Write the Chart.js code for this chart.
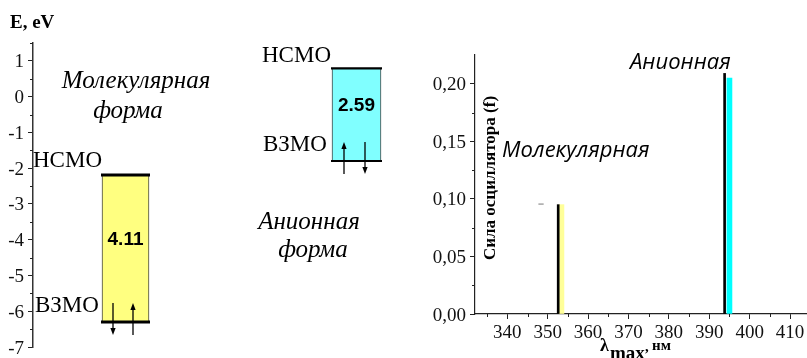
<!DOCTYPE html>
<html>
<head>
<meta charset="utf-8">
<script src="https://cdn.jsdelivr.net/npm/chart.js@4"></script>
<style>
  html, body { margin: 0; padding: 0; background: #fff; }
  #wrap { position: relative; width: 807px; height: 358px; overflow: hidden; }
  #energy { position: absolute; left: 0; top: 0; }
  #spectrum { position: absolute; left: 420px; top: 0; }
</style>
</head>
<body>
<div id="wrap">
  <canvas id="energy" width="420" height="358"></canvas>
  <canvas id="spectrum" width="387" height="358"></canvas>
</div>
<script>
// ---- Frontier orbital energies, eV ----
const forms = ['Молекулярная', 'Анионная'];
const homo = [-6.30, -1.80];
const lumo = [-2.19, 0.79];
const energyTicks = [-7, -6, -5, -4, -3, -2, -1, 0, 1];
const energyMinorTicks = [-6.5, -5.5, -4.5, -3.5, -2.5, -1.5, -0.5, 0.5, 1.5];

// ---- Oscillator strengths of the main transitions ----
const lineWavelengths = [352.6, 393.8];
const lineStrengths = [0.095, 0.209];
const barWavelengths = [353.4, 395.0];
const barStrengths = [0.095, 0.205];
const stubWavelengths = [347.7, 349.0];
const stubStrengths = [0.0955, 0.0955];
const wavelengthTicks = [340, 350, 360, 370, 380, 390, 400, 410];
const wavelengthMinorTicks = [335, 345, 355, 365, 375, 385, 395, 405];
const strengthTicks = [0, 0.05, 0.10, 0.15, 0.20];
const strengthMinorTicks = [0.025, 0.075, 0.125, 0.175];

// ---- drawing settings ----
const SERIF = "'Liberation Serif', 'Times New Roman', serif";
const SANS = "'Liberation Sans', Arial, sans-serif";
const TICK_FONT = "19px " + SERIF;
const boxCenters = [125.5, 356.5];
const boxWidths = [47, 49];
const boxFills = ['#ffff80', '#80ffff'];
const levelWidths = [3, 2.2];
const barFills = ['#ffff99', '#00ffff'];

Chart.defaults.animation = false;
Chart.defaults.events = [];
Chart.defaults.plugins.legend.display = false;
Chart.defaults.plugins.tooltip.enabled = false;

function arrow(ctx, x, yFrom, yTo) {
  const dir = yTo > yFrom ? 1 : -1;
  ctx.beginPath();
  ctx.moveTo(x, yFrom);
  ctx.lineTo(x, yTo - dir * 5);
  ctx.stroke();
  ctx.beginPath();
  ctx.moveTo(x, yTo);
  ctx.lineTo(x - 2.6, yTo - dir * 7);
  ctx.lineTo(x + 2.6, yTo - dir * 7);
  ctx.closePath();
  ctx.fill();
}

function minorTicks(ctx, scale, values, len, vertical) {
  ctx.save();
  ctx.strokeStyle = '#222';
  ctx.lineWidth = 1;
  values.forEach(v => {
    const p = Math.round(scale.getPixelForValue(v)) + 0.5;
    ctx.beginPath();
    if (vertical) { ctx.moveTo(scale.right - len, p); ctx.lineTo(scale.right, p); }
    else { ctx.moveTo(p, scale.top); ctx.lineTo(p, scale.top + len); }
    ctx.stroke();
  });
  ctx.restore();
}

// tick labels in the serif face, placed from the scale's own ticks
function tickLabels(ctx, scale, fmt, vertical) {
  ctx.save();
  ctx.font = TICK_FONT;
  ctx.fillStyle = '#111';
  ctx.textBaseline = 'alphabetic';
  scale.ticks.forEach(t => {
    const p = scale.getPixelForValue(t.value);
    if (vertical) { ctx.textAlign = 'right'; ctx.fillText(fmt(t.value), scale.right - 9, p + 6.5); }
    else { ctx.textAlign = 'center'; ctx.fillText(fmt(t.value), p, scale.top + 24); }
  });
  ctx.restore();
}

// ---- left panel: HOMO/LUMO levels ----
const energyDecor = {
  id: 'energyDecor',
  afterDatasetsDraw(chart) {
    const { ctx, scales: { x, y } } = chart;
    ctx.save();
    minorTicks(ctx, y, energyMinorTicks, 3, true);
    tickLabels(ctx, y, v => String(v), true);

    forms.forEach((f, i) => {
      const cx = x.getPixelForValue(boxCenters[i]);
      const half = boxWidths[i] / 2 + 1;
      const pHomo = y.getPixelForValue(homo[i]);
      const pLumo = y.getPixelForValue(lumo[i]);

      ctx.strokeStyle = '#000';
      ctx.lineWidth = levelWidths[i];
      [pHomo, pLumo].forEach(p => {
        ctx.beginPath(); ctx.moveTo(cx - half, p); ctx.lineTo(cx + half, p); ctx.stroke();
      });

      // band gap
      ctx.fillStyle = '#000';
      ctx.font = 'bold 19px ' + SANS;
      ctx.textAlign = 'center';
      ctx.textBaseline = 'middle';
      ctx.fillText((lumo[i] - homo[i]).toFixed(2), cx, (pHomo + pLumo) / 2 - 9);

      // paired electrons on the HOMO
      ctx.lineWidth = 1.3;
      const top = pHomo - 19, bottom = pHomo + 13;
      if (i === 0) { arrow(ctx, cx - 12.5, top, bottom); arrow(ctx, cx + 7.5, bottom, top); }
      else { arrow(ctx, cx - 12.5, bottom, top); arrow(ctx, cx + 8.5, top, bottom); }
    });

    ctx.fillStyle = '#000';
    ctx.textBaseline = 'alphabetic';
    ctx.textAlign = 'left';
    ctx.font = 'bold 19px ' + SERIF;
    ctx.fillText('E, eV', 10, 28);

    ctx.font = '23px ' + SERIF;
    ctx.fillText('НСМО', 33, 167);
    ctx.fillText('ВЗМО', 35, 312);
    ctx.fillText('НСМО', 262, 62);
    ctx.fillText('ВЗМО', 263, 151);

    ctx.font = 'italic 25px ' + SERIF;
    ctx.textAlign = 'center';
    ctx.fillText('Молекулярная', 136, 88);
    ctx.fillText('форма', 128, 118);
    ctx.fillText('Анионная', 309, 229);
    ctx.fillText('форма', 313, 257);
    ctx.restore();
  }
};

new Chart(document.getElementById('energy'), {
  type: 'bar',
  data: {
    datasets: forms.map((f, i) => ({
      label: f,
      data: [{ x: boxCenters[i], y: [homo[i], lumo[i]] }],
      backgroundColor: boxFills[i],
      borderColor: '#444',
      borderWidth: { left: 1, right: 1, top: 0, bottom: 0 },
      borderSkipped: false,
      barThickness: boxWidths[i],
      grouped: false
    }))
  },
  options: {
    responsive: false,
    devicePixelRatio: 1,
    layout: { padding: { top: 43, bottom: 11, left: 0, right: 0 } },
    scales: {
      x: { type: 'linear', display: false, min: 33, max: 420, offset: false, grid: { offset: false } },
      y: {
        type: 'linear', min: -7, max: 1.5,
        afterBuildTicks(s) { s.ticks = energyTicks.map(v => ({ value: v })); },
        afterFit(s) { s.width = 33; },
        border: { display: true, color: '#333', width: 1.5 },
        grid: { drawOnChartArea: false, drawTicks: true, tickLength: 5, tickColor: '#222' },
        ticks: { display: false }
      }
    }
  },
  plugins: [energyDecor]
});

// ---- right panel: oscillator strengths ----
const spectrumDecor = {
  id: 'spectrumDecor',
  afterDatasetsDraw(chart) {
    const { ctx, scales: { x, y } } = chart;
    minorTicks(ctx, y, strengthMinorTicks, 3, true);
    minorTicks(ctx, x, wavelengthMinorTicks, 3, false);
    tickLabels(ctx, y, v => v.toFixed(2).replace('.', ','), true);
    tickLabels(ctx, x, v => String(v), false);
    ctx.save();
    ctx.fillStyle = '#000';

    // axis titles
    ctx.save();
    ctx.translate(75, 178);
    ctx.rotate(-Math.PI / 2);
    ctx.font = 'bold 17px ' + SERIF;
    ctx.textAlign = 'center';
    ctx.textBaseline = 'alphabetic';
    ctx.fillText('Сила осциллятора (f)', 0, 0);
    ctx.restore();

    ctx.textAlign = 'left';
    ctx.textBaseline = 'alphabetic';
    ctx.font = 'bold 18px ' + SERIF;
    ctx.fillText('λ', 180, 351);
    ctx.font = 'bold 19px ' + SERIF;
    ctx.fillText('max', 190, 359);
    ctx.font = 'bold 15px ' + SERIF;
    ctx.fillText(',', 225, 351);
    ctx.fillText('нм', 232, 350);

    // transition labels
    ctx.font = "italic 22px 'Open Sans', sans-serif";
    ctx.fillText('Анионная', 210, 69);
    ctx.fillText('Молекулярная', 82, 157);
    ctx.restore();
  }
};

new Chart(document.getElementById('spectrum'), {
  type: 'bar',
  data: {
    datasets: [
      {
        label: 'λ',
        data: lineWavelengths.map((w, i) => ({ x: w, y: lineStrengths[i] })),
        backgroundColor: '#000',
        barThickness: 2,
        grouped: false
      },
      {
        label: 'f',
        data: barWavelengths.map((w, i) => ({ x: w, y: barStrengths[i] })),
        backgroundColor: barFills,
        barThickness: 5,
        grouped: false
      },
      {
        type: 'line',
        label: 'stub',
        data: stubWavelengths.map((w, i) => ({ x: w, y: stubStrengths[i] })),
        borderColor: '#777',
        borderWidth: 1,
        pointRadius: 0
      }
    ]
  },
  options: {
    responsive: false,
    devicePixelRatio: 1,
    layout: { padding: { top: 55, bottom: 0, left: 0, right: 0 } },
    scales: {
      x: {
        type: 'linear', min: 332, max: 414.2, offset: false,
        afterBuildTicks(s) { s.ticks = wavelengthTicks.map(v => ({ value: v })); },
        afterFit(s) { s.height = 44; },
        border: { display: true, color: '#222', width: 1.2 },
        grid: { offset: false, drawOnChartArea: false, drawTicks: true, tickLength: 5, tickColor: '#222' },
        ticks: { display: false }
      },
      y: {
        type: 'linear', min: 0, max: 0.225,
        afterBuildTicks(s) { s.ticks = strengthTicks.map(v => ({ value: v })); },
        afterFit(s) { s.width = 55; },
        border: { display: true, color: '#222', width: 1.2 },
        grid: { drawOnChartArea: false, drawTicks: true, tickLength: 5, tickColor: '#222' },
        ticks: { display: false }
      }
    }
  },
  plugins: [spectrumDecor]
});
</script>
</body>
</html>
